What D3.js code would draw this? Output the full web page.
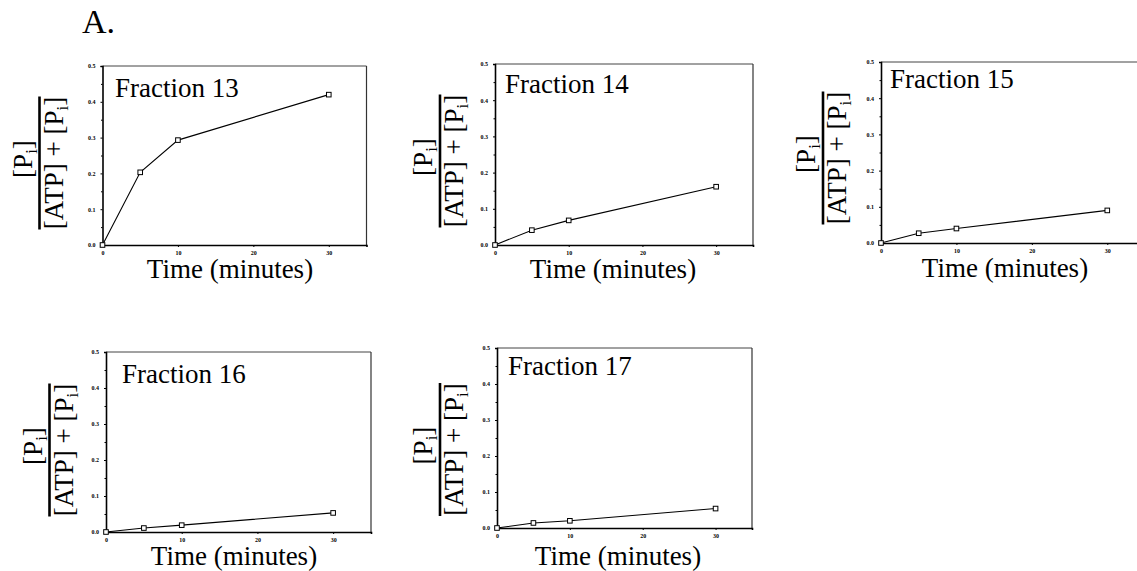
<!DOCTYPE html>
<html>
<head>
<meta charset="utf-8">
<script src="https://cdn.jsdelivr.net/npm/d3@7/dist/d3.min.js"></script>
<style>
  html, body { margin: 0; padding: 0; background: #fff; }
  svg { display: block; }
  text { font-family: "Liberation Serif", "Times New Roman", serif; fill: #000; }
</style>
</head>
<body>
<svg id="chart" width="1137" height="571"></svg>
<script>
// ---- data ----
const times = [0, 5, 10, 30];
const fractionNames = ["Fraction 13", "Fraction 14", "Fraction 15", "Fraction 16", "Fraction 17"];
const frac13 = [0, 0.203, 0.293, 0.420];
const frac14 = [0, 0.041, 0.068, 0.161];
const frac15 = [0, 0.027, 0.040, 0.090];
const frac16 = [0, 0.011, 0.019, 0.053];
const frac17 = [0, 0.014, 0.020, 0.054];
const seriesValues = [frac13, frac14, frac15, frac16, frac17];
const yTickValues = [0.0, 0.1, 0.2, 0.3, 0.4, 0.5];
const yMinorTicks = [0.05, 0.15, 0.25, 0.35, 0.45];
const xTickValues = [0, 10, 20, 30];
const xDomain = [0, 35];
const yDomain = [0, 0.5];
const xTitle = "Time (minutes)";
const panelLabel = "A.";

// ---- layout (positions only) ----
const layout = [
  {left: 102.5, top: 66, right: 366.5, bottom: 245, barX: 39.5, cy: 163, tx: 230, ty: 278, nx: 115, ny: 97},
  {left: 495, top: 64, right: 753, bottom: 245, barX: 440, cy: 161, tx: 613, ty: 278, nx: 505, ny: 93},
  {left: 881, top: 62, right: 1145, bottom: 243, barX: 823, cy: 158, tx: 1005, ty: 276.5, nx: 890, ny: 88},
  {left: 106, top: 352, right: 371, bottom: 532, barX: 49.5, cy: 450, tx: 234, ty: 565, nx: 122, ny: 383},
  {left: 497, top: 348, right: 752, bottom: 528, barX: 440, cy: 449.5, tx: 618, ty: 565, nx: 508, ny: 375}
];

const svg = d3.select("#chart");

svg.append("text")
  .attr("x", 82).attr("y", 33)
  .attr("font-size", 34)
  .text(panelLabel);

seriesValues.forEach((vals, i) => {
  const L = layout[i];
  const x = d3.scaleLinear().domain(xDomain).range([L.left, L.right]);
  const y = d3.scaleLinear().domain(yDomain).range([L.bottom, L.top]);
  const g = svg.append("g");

  // frame (top/right lighter)
  g.append("line").attr("x1", L.left).attr("x2", L.right).attr("y1", L.top).attr("y2", L.top)
    .attr("stroke", "#444").attr("stroke-width", 1);
  g.append("line").attr("x1", L.right).attr("x2", L.right).attr("y1", L.top).attr("y2", L.bottom)
    .attr("stroke", "#333").attr("stroke-width", 1.2);

  // y axis
  const yAxis = d3.axisLeft(y).tickValues(yTickValues).tickSize(2).tickPadding(5)
    .tickFormat(d3.format(".1f"));
  const ya = g.append("g").attr("transform", `translate(${L.left},0)`).call(yAxis);
  ya.select(".domain").attr("stroke", "#000").attr("stroke-width", 1.6);
  ya.selectAll(".tick line").attr("stroke", "#000");
  ya.selectAll(".tick text").attr("font-size", 6).attr("font-weight", "bold")
    .attr("font-family", "Liberation Serif, serif").attr("fill", "#000");
  const yMinor = d3.axisLeft(y).tickValues(yMinorTicks).tickSize(1.5).tickFormat("");
  const ym = g.append("g").attr("transform", `translate(${L.left},0)`).call(yMinor);
  ym.select(".domain").remove();

  // x axis
  const xAxis = d3.axisBottom(x).tickValues(xTickValues).tickSize(2).tickPadding(3.5)
    .tickFormat(d3.format("d"));
  const xa = g.append("g").attr("transform", `translate(0,${L.bottom})`).call(xAxis);
  xa.select(".domain").attr("stroke", "#000").attr("stroke-width", 1.6);
  xa.selectAll(".tick line").attr("stroke", "#000");
  xa.selectAll(".tick text").attr("font-size", 6).attr("font-weight", "bold")
    .attr("font-family", "Liberation Serif, serif").attr("fill", "#000");

  // data line
  const pts = times.map((t, k) => [t, vals[k]]);
  const line = d3.line().x(d => x(d[0])).y(d => y(d[1]));
  g.append("path").datum(pts).attr("d", line)
    .attr("fill", "none").attr("stroke", "#000").attr("stroke-width", 1.1);
  g.selectAll("rect.pt").data(pts).enter().append("rect")
    .attr("class", "pt")
    .attr("x", d => x(d[0]) - 2.3).attr("y", d => y(d[1]) - 2.3)
    .attr("width", 4.6).attr("height", 4.6)
    .attr("fill", "#fff").attr("stroke", "#000").attr("stroke-width", 1);

  // fraction name
  g.append("text").attr("x", L.nx).attr("y", L.ny).attr("font-size", 27)
    .text(fractionNames[i]);

  // x title
  g.append("text").attr("x", L.tx).attr("y", L.ty).attr("font-size", 27)
    .attr("text-anchor", "middle").text(xTitle);

  // y title: fraction [Pi] / ([ATP] + [Pi])
  const yl = g.append("g").attr("transform", `translate(${L.barX},${L.cy}) rotate(-90)`);
  yl.append("line").attr("x1", -66.5).attr("x2", 66.5).attr("y1", 0).attr("y2", 0)
    .attr("stroke", "#000").attr("stroke-width", 2.6);
  const num = yl.append("text").attr("x", 4).attr("y", -8).attr("font-size", 27)
    .attr("text-anchor", "middle");
  num.append("tspan").text("[P");
  num.append("tspan").attr("font-size", 17).attr("dy", 5).text("i");
  num.append("tspan").attr("dy", -5).text("]");
  const den = yl.append("text").attr("x", 0).attr("y", 23).attr("font-size", 27)
    .attr("text-anchor", "middle");
  den.append("tspan").text("[ATP] + [P");
  den.append("tspan").attr("font-size", 17).attr("dy", 5).text("i");
  den.append("tspan").attr("dy", -5).text("]");
});
</script>
</body>
</html>
